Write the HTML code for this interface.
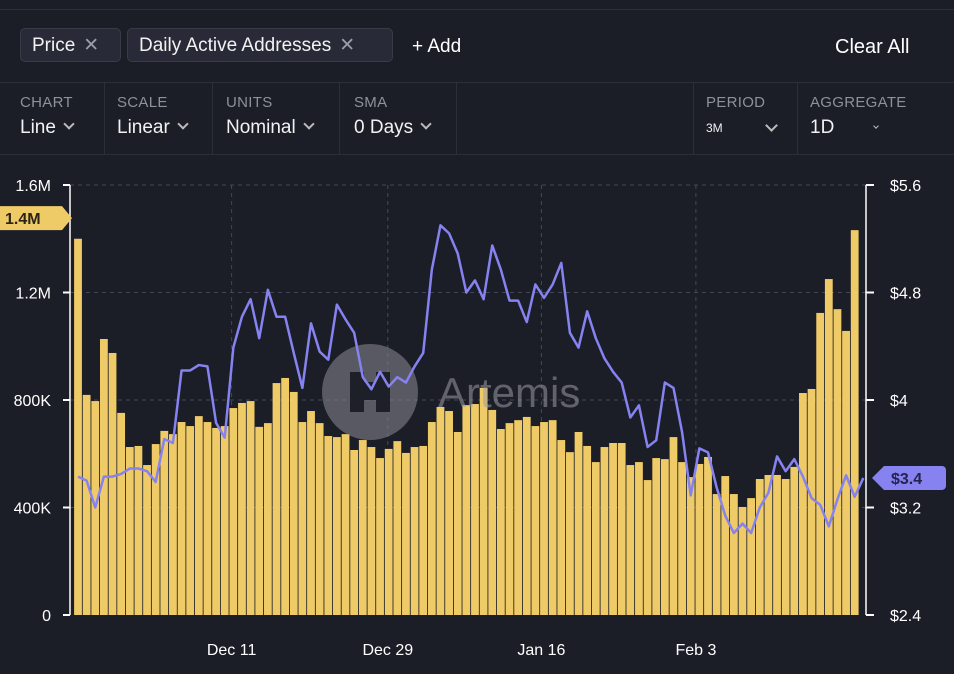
<!DOCTYPE html>
<html><head><meta charset="utf-8"><style>
body{margin:0;width:954px;height:674px;background:#1b1d27;font-family:"Liberation Sans",sans-serif;color:#fff;overflow:hidden;position:relative}
.topline{position:absolute;left:0;top:9px;width:954px;height:1px;background:#2c2f3b}
.chip{position:absolute;top:28px;height:34px;background:#282b37;border:1px solid #383b48;border-radius:5px;font-size:19px;line-height:34px;padding:0 0 0 11px;box-sizing:border-box;color:#f2f2f2}
.chip span{color:#9a9ca6;margin-left:8px}
.sep{position:absolute;background:#2c2f3b}
.ctl{position:absolute;top:94px}
.ctl .l{font-size:15px;color:#8e909a;letter-spacing:.3px}
.ctl .v{font-size:19px;color:#f2f2f2;margin-top:6px;white-space:nowrap}
.chev{display:inline-block;width:6px;height:6px;border-right:2px solid #bbb;border-bottom:2px solid #bbb;transform:rotate(45deg);margin-left:9px;position:relative;top:-5px}
</style></head><body>
<div class="topline"></div>
<div class="chip" style="left:20px;width:101px">Price<span>✕</span></div>
<div class="chip" style="left:127px;width:266px">Daily Active Addresses<span>✕</span></div>
<div style="position:absolute;left:412px;top:36px;font-size:19px">+ Add</div>
<div style="position:absolute;left:835px;top:36px;font-size:20px">Clear All</div>
<div class="sep" style="left:0;top:82px;width:954px;height:1px"></div>
<div class="sep" style="left:0;top:154px;width:954px;height:1px"></div>
<div class="sep" style="left:104px;top:83px;width:1px;height:71px"></div>
<div class="sep" style="left:212px;top:83px;width:1px;height:71px"></div>
<div class="sep" style="left:339px;top:83px;width:1px;height:71px"></div>
<div class="sep" style="left:456px;top:83px;width:1px;height:71px"></div>
<div class="sep" style="left:693px;top:83px;width:1px;height:71px"></div>
<div class="sep" style="left:797px;top:83px;width:1px;height:71px"></div>
<div class="ctl" style="left:20px"><div class="l">CHART</div><div class="v">Line<span class="chev"></span></div></div>
<div class="ctl" style="left:117px"><div class="l">SCALE</div><div class="v">Linear<span class="chev"></span></div></div>
<div class="ctl" style="left:226px"><div class="l">UNITS</div><div class="v">Nominal<span class="chev"></span></div></div>
<div class="ctl" style="left:354px"><div class="l">SMA</div><div class="v">0 Days<span class="chev"></span></div></div>
<div class="ctl" style="left:706px"><div class="l">PERIOD</div><div class="v" style="font-size:12px;margin-top:10px">3M<span class="chev" style="margin-left:44px;top:-2px;width:7px;height:7px"></span></div></div>
<div class="ctl" style="left:810px"><div class="l">AGGREGATE</div><div class="v">1D<span class="chev" style="margin-left:40px;width:3px;height:3px;border-width:1px"></span></div></div>

<svg id="chart" width="954" height="674" style="position:absolute;left:0;top:0"></svg>
<script>
const bars=[1.40,0.819,0.796,1.027,0.975,0.752,0.625,0.629,0.558,0.636,0.685,0.673,0.718,0.703,0.740,0.718,0.696,0.703,0.770,0.789,0.796,0.700,0.714,0.863,0.882,0.830,0.718,0.759,0.714,0.666,0.662,0.673,0.614,0.651,0.625,0.584,0.618,0.647,0.603,0.625,0.629,0.718,0.774,0.759,0.681,0.781,0.785,0.845,0.763,0.692,0.714,0.725,0.737,0.703,0.718,0.725,0.651,0.606,0.681,0.629,0.569,0.625,0.640,0.640,0.558,0.569,0.502,0.584,0.580,0.662,0.569,0.513,0.562,0.588,0.450,0.517,0.450,0.402,0.435,0.506,0.521,0.521,0.506,0.551,0.826,0.841,1.124,1.250,1.138,1.057,1.432];
const price=[3.43,3.40,3.20,3.43,3.43,3.45,3.49,3.49,3.47,3.39,3.71,3.68,4.22,4.22,4.26,4.25,3.83,3.72,4.39,4.62,4.75,4.46,4.82,4.62,4.62,4.35,4.09,4.57,4.36,4.30,4.71,4.60,4.50,4.17,4.08,4.21,4.10,4.17,4.13,4.25,4.35,4.97,5.30,5.24,5.09,4.80,4.89,4.75,5.15,4.97,4.74,4.74,4.58,4.86,4.76,4.86,5.02,4.50,4.39,4.66,4.46,4.31,4.21,4.13,3.87,3.96,3.65,3.70,4.13,4.09,3.76,3.29,3.64,3.61,3.35,3.14,3.01,3.08,3.01,3.20,3.31,3.58,3.47,3.56,3.43,3.27,3.22,3.06,3.26,3.44,3.28,3.42];
const leftTicks=[0,400000,800000,1200000,1600000];
const leftLabels=["0","400K","800K","1.2M","1.6M"];
const rightTicks=[2.4,3.2,4,4.8,5.6];
const rightLabels=["$2.4","$3.2","$4","$4.8","$5.6"];
const dateLabels=["Dec 11","Dec 29","Jan 16","Feb 3"];
const dateIdx=[17.8,35.9,53.7,71.6];
const X0=70,X1=866,Y0=615,Y1=185,P0=78,PD=8.63;
const xd=i=>P0+i*PD;
const yl=v=>Y0-(v/1600000)*(Y0-Y1);
const yr=v=>Y0-((v-2.4)/3.2)*(Y0-Y1);
const svg=document.getElementById('chart');
const NS='http://www.w3.org/2000/svg';
function mk(t,a){const e=document.createElementNS(NS,t);for(const k in a)e.setAttribute(k,a[k]);svg.appendChild(e);return e;}
leftTicks.forEach((v,i)=>{if(v>0){const g=mk('line',{x1:X0,x2:X1,y1:yl(v),y2:yl(v),stroke:'#44475a','stroke-dasharray':'4 4'});

}});
dateIdx.forEach((d,i)=>{const g=mk('line',{x1:xd(d),x2:xd(d),y1:Y1,y2:Y0,stroke:'#44475a','stroke-dasharray':'4 4'});

});
bars.forEach((v,i)=>{const y=yl(v*1e6);const r=mk('rect',{x:xd(i)-3.9,y:y,width:7.8,height:Y0-y,fill:'#efcb68'});

});
const wm=mk('circle',{cx:370,cy:392,r:48,fill:'#8a8b93','fill-opacity':0.55});


const wmi=mk('path',{d:'M350 372h14v10h12v-10h14v40h-14v-12h-12v12h-14z',fill:'#1d1f29'});


const wt=mk('text',{x:438,y:407,fill:'#9a9ba3','fill-opacity':0.55,'font-size':42,'font-family':'Liberation Sans, sans-serif'});
wt.textContent='Artemis';


const pl=mk('polyline',{points:price.map((p,i)=>xd(i)+','+yr(p)).join(' '),fill:'none',stroke:'#8682f0','stroke-width':2.5,'stroke-linejoin':'round'});


const la=mk('line',{x1:X0,x2:X0,y1:Y1,y2:Y0,stroke:'#fff','stroke-width':1.5});


const ra=mk('line',{x1:X1,x2:X1,y1:Y1,y2:Y0,stroke:'#fff','stroke-width':1.5});


leftTicks.forEach((v,i)=>{mk('line',{x1:X0-7,x2:X0,y1:yl(v),y2:yl(v),stroke:'#fff','stroke-width':2});
const t=mk('text',{x:X0-19,y:yl(v)+6,fill:'#fff','font-size':16,'text-anchor':'end','font-family':'Liberation Sans, sans-serif'});
t.textContent=leftLabels[i];

});
rightTicks.forEach((v,i)=>{mk('line',{x1:X1,x2:X1+8,y1:yr(v),y2:yr(v),stroke:'#fff','stroke-width':2});
const t=mk('text',{x:X1+24,y:yr(v)+6,fill:'#fff','font-size':16,'font-family':'Liberation Sans, sans-serif'});
t.textContent=rightLabels[i];

});
dateLabels.forEach((s,i)=>{const t=mk('text',{x:xd(dateIdx[i]),y:655,fill:'#fff','font-size':16,'text-anchor':'middle','font-family':'Liberation Sans, sans-serif'});
t.textContent=s;

});
const lastB=bars[bars.length-1]*1e6, yb=yl(lastB)-12;
const f1=mk('path',{d:`M0 ${yb-12}h62l10 12l-10 12h-62z`,fill:'#efcb68'});


const f1t=mk('text',{x:5,y:yb+6,fill:'#2a2412','font-size':16,'font-weight':'bold','font-family':'Liberation Sans, sans-serif'});
f1t.textContent='1.4M';


const yp=yr(price[price.length-1]);
const f2=mk('path',{d:`M872 ${yp}l12 -12h58a4 4 0 0 1 4 4v16a4 4 0 0 1 -4 4h-58z`,fill:'#8682f0'});


const f2t=mk('text',{x:891,y:yp+6,fill:'#25234a','font-size':16,'font-weight':'bold','font-family':'Liberation Sans, sans-serif'});
f2t.textContent='$3.4';


</script>
</body></html>
